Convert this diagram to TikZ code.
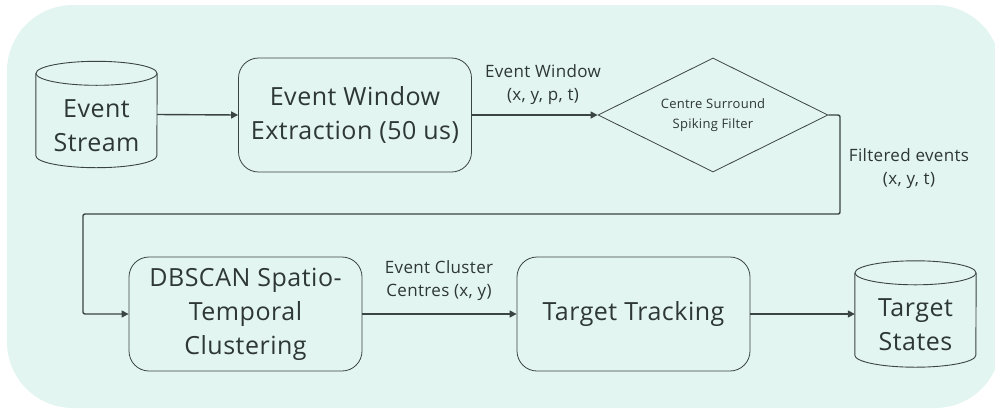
\documentclass[tikz,border=0pt]{standalone}
\usepackage{fontspec}
\setmainfont{Open Sans}
\usetikzlibrary{shapes.geometric,arrows.meta,calc}
\definecolor{bgmint}{RGB}{227,245,241}
\definecolor{ink}{RGB}{45,55,53}
\definecolor{edge}{RGB}{58,68,66}
\tikzset{
  bigtext/.style={text=ink,font=\fontsize{25}{34}\selectfont\addfontfeatures{LetterSpace=2},align=center},
  midtext/.style={text=ink,font=\fontsize{17}{23}\selectfont\addfontfeatures{LetterSpace=2},align=center},
  smalltext/.style={text=ink,font=\fontsize{13}{20}\selectfont\addfontfeatures{LetterSpace=2},align=center},
  procbox/.style={draw=edge,line width=0.8pt,rounded corners=20pt,minimum width=233pt,minimum height=114pt,inner sep=0pt,bigtext},
  dbbox/.style={minimum width=121pt,minimum height=106pt,inner sep=0pt},
  cylline/.style={draw=edge,line width=0.9pt},
  conn/.style={draw=edge,line width=1.4pt,-{Triangle[length=7pt,width=7pt]}},
  lbl/.style={midtext,inner sep=0pt}
}
\begin{document}
\begin{tikzpicture}[x=1pt,y=-1pt]
\useasboundingbox (0,0) rectangle (995,410);
\begin{scope}
\clip (0,0) rectangle (995,410);
\fill[bgmint,rounded corners=66pt] (7,5) rectangle (1001,408);
\end{scope}

% nodes
\node[dbbox] (stream) at (96.5,114.5) {};
\node[procbox] (extract) at (355,115) {Event Window\\Extraction (50 us)};
\node[diamond,aspect=2,draw=edge,line width=0.8pt,minimum width=230pt,minimum height=114pt,inner sep=0pt,smalltext] (filter) at (713,115) {Centre Surround\\Spiking Filter};
\node[procbox] (dbscan) at (245.5,314) {DBSCAN Spatio-\\Temporal\\Clustering};
\node[procbox] (track) at (633.5,314) {Target Tracking};
\node[dbbox] (states) at (915.5,314) {};

% cylinders
\foreach \c in {stream,states}{
  \draw[cylline] ($(\c.north west)+(0,12)$) -- ($(\c.south west)+(0,-12)$)
     arc[start angle=180,end angle=360,x radius=60.5pt,y radius=12pt]
     -- ($(\c.north east)+(0,12)$);
  \draw[cylline] ($(\c.north)+(0,12)$) ellipse[x radius=60.5pt,y radius=12pt];
}
\node[bigtext] (streamtxt) at ($(stream.center)+(0,11)$) {Event\\Stream};
\node[bigtext] (statestxt) at ($(states.center)+(0,11)$) {Target\\States};

% connectors
\coordinate (c1) at (840,214);
\coordinate (c2) at (83,214);
\draw[conn] (stream.east) -- (extract.west);
\draw[conn] (extract.east) -- (filter.west);
\draw[conn,rounded corners=2pt] (filter.east) -| (c1) -- (c2) |- (dbscan.west);
\draw[conn] (dbscan.east) -- (track.west);
\draw[conn] (track.east) -- (states.west);

% labels
\node[lbl] (l1) at (543,85) {Event Window\\(x, y, p, t)};
\node[lbl] (l2) at (909,169) {Filtered events\\(x, y, t)};
\node[lbl] (l3) at (439,281) {Event Cluster\\Centres (x, y)};
\end{tikzpicture}
\end{document}
